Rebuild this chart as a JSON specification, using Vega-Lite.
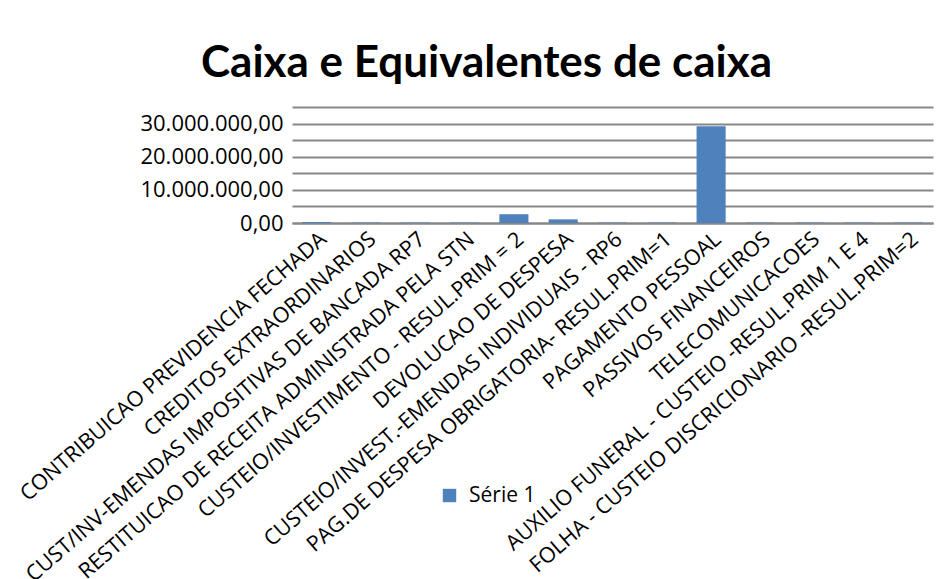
{
  "$schema": "https://vega.github.io/schema/vega-lite/v6.json",
  "width": 641,
  "height": 116,
  "autosize": {"type": "none"},
  "padding": {"left": 292, "top": 107, "right": 19, "bottom": 356},
  "background": "white",
  "config": {
    "locale": {"number": {"decimal": ",", "thousands": ".", "grouping": [3], "currency": ["R$", ""]}},
    "view": {"stroke": null},
    "font": "Open Sans"
  },
  "title": {
    "text": "Caixa e Equivalentes de caixa",
    "font": "Lato",
    "fontSize": 44,
    "fontWeight": "bold",
    "color": "#000000",
    "anchor": "middle",
    "frame": "group",
    "dx": -126,
    "offset": 21
  },
  "data": {
    "values": [
      {"categoria": "CONTRIBUICAO PREVIDENCIA FECHADA", "valor": 300000, "serie": "Série 1"},
      {"categoria": "CREDITOS EXTRAORDINARIOS", "valor": 120000, "serie": "Série 1"},
      {"categoria": "CUST/INV-EMENDAS IMPOSITIVAS DE BANCADA RP7", "valor": 120000, "serie": "Série 1"},
      {"categoria": "RESTITUICAO DE RECEITA ADMINISTRADA PELA STN", "valor": 120000, "serie": "Série 1"},
      {"categoria": "CUSTEIO/INVESTIMENTO - RESUL.PRIM = 2", "valor": 2650000, "serie": "Série 1"},
      {"categoria": "DEVOLUCAO DE DESPESA", "valor": 1100000, "serie": "Série 1"},
      {"categoria": "CUSTEIO/INVEST.-EMENDAS INDIVIDUAIS - RP6", "valor": 120000, "serie": "Série 1"},
      {"categoria": "PAG.DE DESPESA OBRIGATORIA- RESUL.PRIM=1", "valor": 120000, "serie": "Série 1"},
      {"categoria": "PAGAMENTO PESSOAL", "valor": 29200000, "serie": "Série 1"},
      {"categoria": "PASSIVOS FINANCEIROS", "valor": 120000, "serie": "Série 1"},
      {"categoria": "TELECOMUNICACOES", "valor": 120000, "serie": "Série 1"},
      {"categoria": "AUXILIO FUNERAL - CUSTEIO -RESUL.PRIM 1 E 4", "valor": 120000, "serie": "Série 1"},
      {"categoria": "FOLHA - CUSTEIO DISCRICIONARIO -RESUL.PRIM=2", "valor": 120000, "serie": "Série 1"}
    ]
  },
  "mark": {"type": "bar"},
  "encoding": {
    "x": {
      "field": "categoria",
      "type": "nominal",
      "sort": null,
      "scale": {"paddingInner": 0.41, "paddingOuter": 0.205},
      "axis": {
        "title": null,
        "labelAngle": -41,
        "labelFont": "Open Sans",
        "labelFontSize": 21.5,
        "labelColor": "#000000",
        "labelLimit": 0,
        "labelOverlap": false,
        "labelPadding": 5,
        "labelDx": -3,
        "ticks": false,
        "domainColor": "#878787",
        "domainWidth": 1.8
      }
    },
    "y": {
      "field": "valor",
      "type": "quantitative",
      "scale": {"domain": [0, 35000000], "nice": false},
      "axis": {
        "title": null,
        "values": [0, 5000000, 10000000, 15000000, 20000000, 25000000, 30000000, 35000000],
        "format": ",.2f",
        "labelExpr": "datum.value % 10000000 == 0 ? datum.label : ''",
        "labelFont": "Open Sans",
        "labelFontSize": 22,
        "labelColor": "#000000",
        "labelPadding": 9,
        "ticks": false,
        "domain": false,
        "grid": true,
        "gridColor": "#878787",
        "gridWidth": 1.8
      }
    },
    "color": {
      "field": "serie",
      "type": "nominal",
      "scale": {"range": ["#4f81bd"]},
      "legend": {
        "title": null,
        "orient": "none",
        "legendX": 147,
        "legendY": 378,
        "symbolType": "square",
        "symbolSize": 180,
        "symbolStrokeWidth": 0,
        "labelFont": "Open Sans",
        "labelFontSize": 21,
        "labelColor": "#000000",
        "labelOffset": 9
      }
    }
  }
}
